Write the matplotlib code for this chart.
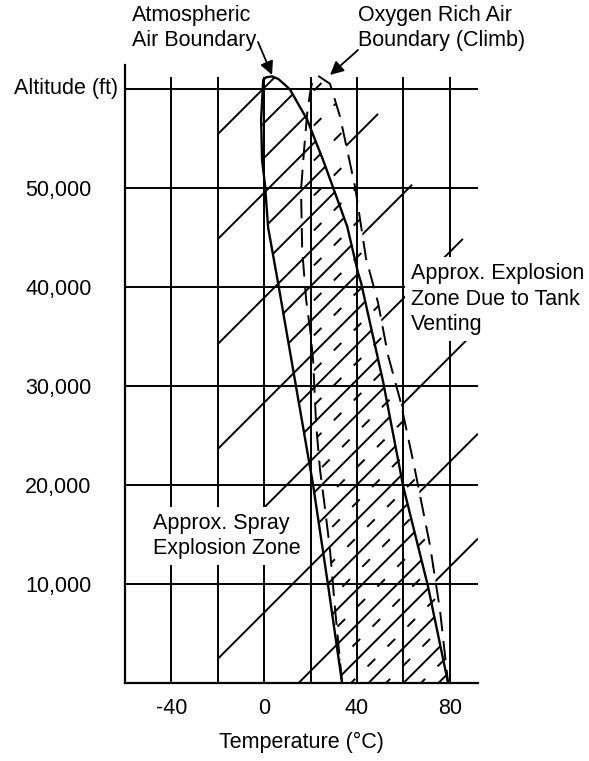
import numpy as np
import matplotlib.pyplot as plt
from matplotlib.patches import Polygon
from matplotlib.collections import LineCollection

plt.rcParams['font.family'] = ['Liberation Sans', 'DejaVu Sans']
plt.rcParams['font.size'] = 15.5

# atmospheric air boundary: up the left branch, over the top, down the right branch
atm_temp = [33.6, 27.6, 21.1, 13.4, 6.0, 1.7, 0.4, -0.9, -1.3, -0.4, 0.8, 3.4,
            6.0, 9.0, 11.2, 18.5, 25.4, 29.3, 35.8, 40.5, 41.8, 51.3, 59.9, 70.6, 79.3]
atm_alt = [0, 9800, 20000, 30400, 40400, 46000, 50200, 52800, 56900, 60900, 61150, 61250,
           61000, 60400, 59900, 56900, 52800, 50300, 46100, 41400, 40400, 30400, 19900, 9800, 0]
atm_top = 11

# oxygen rich air boundary (climb), dashed
oxy_temp = [33.6, 30.6, 28.4, 26.3, 24.1, 22.4, 21.1, 19.8, 18.1, 16.4, 15.9, 17.2, 18.5, 19.8, 20.8,
            23.3,
            28.4, 32.7, 39.2, 43.9, 49.1, 53.4, 58.6, 64.6, 71.5, 75.8, 79.3]
oxy_alt = [0, 7400, 13400, 17500, 21500, 26100, 32600, 35700, 38700, 43700, 49800, 53800, 57400, 59600, 60800,
           61300,
           60500, 57200, 50100, 42900, 38400, 33100, 28600, 22000, 13900, 7400, 0]
oxy_top = 15

# hatching: 45 deg lines, given by where they cross 60,000 ft
hatch_first = -0.4
hatch_step = 15.08
hatch_count = 24
spray_left = [0, 3, 6, 9, 12, 15, 18]          # lines left of the zone, start at -20 C
spray_left_start = -20
spray_right = [4, 7, 10, 13, 16, 19]           # lines right of the zone
spray_right_end = [49.1, 63.8, 85.7, 92.2, 92.2, 92.2]

alt_ticks = [10000, 20000, 30000, 40000, 50000]
alt_labels = ['10,000', '20,000', '30,000', '40,000', '50,000']
temp_ticks = [-40, 0, 40, 80]
temp_grid = [-40, -20, 0, 20, 40, 60, 80]

W, H = 589, 761
fig = plt.figure(figsize=(W / 100, H / 100), dpi=100)
ax = fig.add_axes([125 / W, 78 / H, 353 / W, 618 / H])
xmin, xmax, ymin, ymax = -60, 92.2, 0, 62400
ax.set_xlim(xmin, xmax)
ax.set_ylim(ymin, ymax)

# slope that looks like 45 degrees on screen (ft per deg C)
s = (353 / (xmax - xmin)) / (618 / (ymax - ymin))

# grid
ax.vlines(temp_grid, 0, 61200, color='black', lw=1.4, zorder=1)
ax.set_yticks(alt_ticks, alt_labels)
ax.set_xticks(temp_ticks, [str(t) for t in temp_ticks])
ax.grid(axis='y', color='black', lw=1.4, zorder=1)
ax.axhline(60000, color='black', lw=1.4, zorder=1)
ax.set_axisbelow(True)
for side in ['top', 'right']:
    ax.spines[side].set_visible(False)
for side in ['left', 'bottom']:
    ax.spines[side].set_linewidth(1.6)
ax.tick_params(axis='both', length=0)
ax.tick_params(axis='y', pad=24)
ax.tick_params(axis='x', pad=11)
ax.set_xlabel('Temperature (°C)', labelpad=9)


def hatch_line(t60, t_from, t_to):
    return [(t_from, 60000 + s * (t_from - t60)), (t_to, 60000 + s * (t_to - t60))]


lo = -10000
hi = 70000
t60 = hatch_first + hatch_step * np.arange(hatch_count)
full = [hatch_line(t, t + (lo - 60000) / s, t + (hi - 60000) / s) for t in t60]
half = [hatch_line(t + hatch_step / 2, t + hatch_step / 2 + (lo - 60000) / s,
                   t + hatch_step / 2 + (hi - 60000) / s) for t in t60]

atm_poly = Polygon(list(zip(atm_temp, atm_alt)), closed=True, transform=ax.transData)
oxy_poly = Polygon(list(zip(oxy_temp, oxy_alt)), closed=True, transform=ax.transData)
left_poly = Polygon([(-70, 0)] + list(zip(atm_temp[:atm_top + 1], atm_alt[:atm_top + 1]))
                    + [(atm_temp[atm_top], 70000), (-70, 70000)], closed=True, transform=ax.transData)
right_poly = Polygon([(oxy_temp[oxy_top], 70000)] + list(zip(oxy_temp[oxy_top:], oxy_alt[oxy_top:]))
                     + [(120, 0), (120, 70000)], closed=True, transform=ax.transData)

lc = LineCollection(full, colors='black', lw=1.4, zorder=2)
ax.add_collection(lc)
lc.set_clip_path(atm_poly)

lc = LineCollection(half, colors='black', lw=1.4, zorder=2, linestyles=[(3, (5.5, 9))])
ax.add_collection(lc)
lc.set_clip_path(oxy_poly)

segs = [hatch_line(t60[i], spray_left_start, t60[i] + (hi - 60000) / s) for i in spray_left]
lc = LineCollection(segs, colors='black', lw=1.4, zorder=2)
ax.add_collection(lc)
lc.set_clip_path(left_poly)

segs = [hatch_line(t60[i], t60[i] + (lo - 60000) / s, e) for i, e in zip(spray_right, spray_right_end)]
lc = LineCollection(segs, colors='black', lw=1.4, zorder=2)
ax.add_collection(lc)
lc.set_clip_path(right_poly)

# boundaries
ax.plot(atm_temp, atm_alt, color='black', lw=1.7, zorder=3)
ax.plot(oxy_temp, oxy_alt, color='black', lw=1.4, zorder=3, linestyle=(0, (10, 5)))

# labels
ax.annotate('Altitude (ft)', xy=(0, 60000), xycoords=('axes fraction', 'data'),
            xytext=(-5, 0), textcoords='offset points', ha='right', va='center')
box = dict(facecolor='white', edgecolor='none', pad=4)
ax.text(-47.8, 17200, 'Approx. Spray\nExplosion Zone', ha='left', va='top',
        bbox=box, zorder=5, linespacing=1.28)
ax.text(63.3, 42400, 'Approx. Explosion\nZone Due to Tank\nVenting', ha='left', va='top',
        bbox=box, zorder=5, linespacing=1.28, clip_on=False)

fig.text(132 / W, 1 - 5 / H, 'Atmospheric\nAir Boundary', ha='left', va='top', linespacing=1.28)
fig.text(358 / W, 1 - 5 / H, 'Oxygen Rich Air\nBoundary (Climb)', ha='left', va='top', linespacing=1.28)

arrow = dict(arrowstyle='-|>', color='black', lw=1.3, mutation_scale=20, shrinkA=0, shrinkB=0)
ax.annotate('', xy=(atm_temp[atm_top], atm_alt[atm_top] + 150), xytext=(258, H - 42),
            textcoords='figure pixels', arrowprops=arrow, annotation_clip=False)
ax.annotate('', xy=(oxy_temp[oxy_top + 1], oxy_alt[oxy_top] + 100), xytext=(358, H - 50),
            textcoords='figure pixels', arrowprops=arrow, annotation_clip=False)

fig.savefig('out.png', dpi=100, facecolor='white')
